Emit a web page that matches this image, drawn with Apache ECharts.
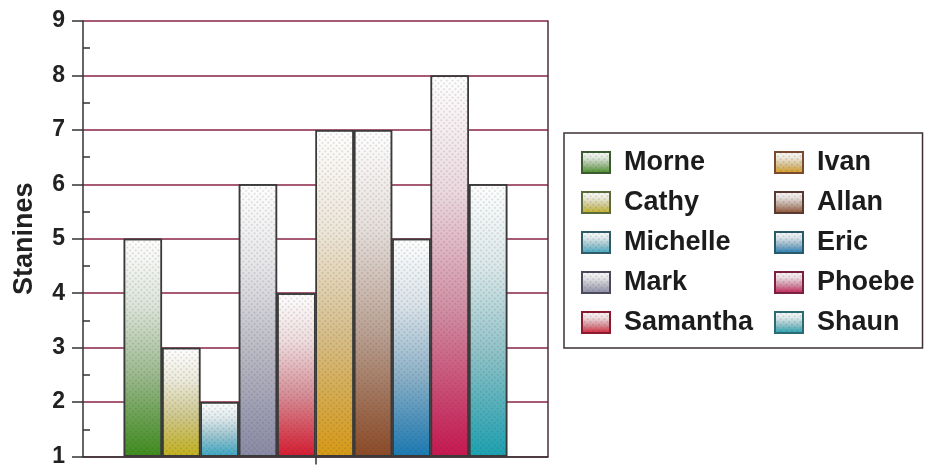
<!DOCTYPE html>
<html>
<head>
<meta charset="utf-8">
<script src="https://cdn.jsdelivr.net/npm/echarts@6/dist/echarts.min.js"></script>
<style>
  html, body { margin: 0; padding: 0; background: #ffffff; }
  #chart { width: 926px; height: 468px; }
</style>
</head>
<body>
<div id="chart"></div>
<script>
// Stanine score for each pupil
const categories = [''];
const pupils = ['Morne', 'Cathy', 'Michelle', 'Mark', 'Samantha', 'Ivan', 'Allan', 'Eric', 'Phoebe', 'Shaun'];
const stanines = [5, 3, 2, 6, 4, 7, 7, 5, 8, 6];
const yMin = 1, yMax = 9, yStep = 1;

// Base shade of each bar, plus a darker edge used for the legend swatches
const baseColors = ['#3f8c1c', '#c4b21c', '#3aa8c4', '#8a8aa6', '#d81a30', '#d89a14', '#8c4a26', '#1a7ab4', '#c81650', '#1ca2b2'];
const edgeColors = ['#3c5a30', '#5a6a3a', '#2f5a66', '#4a4a5a', '#8a1a30', '#7a4a30', '#5a3a30', '#2a5a6a', '#7a2040', '#2a6a72'];

const FONT = '"Liberation Sans", Arial, sans-serif';

function hexToRgb(h) {
  const n = parseInt(h.slice(1), 16);
  return [(n >> 16) & 255, (n >> 8) & 255, n & 255];
}
function mix(a, b, t) {
  const A = hexToRgb(a), B = hexToRgb(b);
  const c = A.map((v, i) => Math.round(v + (B[i] - v) * t));
  return 'rgb(' + c.join(',') + ')';
}
// Fades from the full shade at the foot of the bar to white at its top
function fade(c) {
  return {
    type: 'linear', x: 0, y: 0, x2: 0, y2: 1,
    colorStops: [
      { offset: 0, color: '#ffffff' },
      { offset: 0.3, color: mix(c, '#f0f0f0', 0.9) },
      { offset: 0.62, color: mix(c, '#d6d6d6', 0.62) },
      { offset: 0.88, color: mix(c, '#cccccc', 0.2) },
      { offset: 1, color: c }
    ]
  };
}

const halftone = {
  symbol: 'circle',
  symbolSize: 0.9,
  color: 'rgba(60,60,60,0.2)',
  dashArrayX: [2, 2],
  dashArrayY: [2, 2],
  rotation: Math.PI / 4
};

const series = pupils.map((name, i) => ({
  name: name,
  type: 'bar',
  yAxisIndex: 0,
  data: [stanines[i]],
  barGap: '0%',
  barCategoryGap: '17.5%',
  clip: true,
  itemStyle: {
    color: fade(baseColors[i]),
    borderColor: '#3a3a3a',
    borderWidth: 1.5,
    decal: halftone
  },
  emphasis: { disabled: true },
  silent: true
}));

// Legend reads row by row: left column then right column
const legendOrder = [0, 5, 1, 6, 2, 7, 3, 8, 4, 9];
const legendData = legendOrder.map((i, k) => {
  const item = { name: pupils[i], icon: 'rect', itemStyle: { borderColor: edgeColors[i], borderWidth: 2 } };
  if (k % 2 === 0) item.textStyle = { width: 137 };
  return item;
});

const chart = echarts.init(document.getElementById('chart'), null, { renderer: 'canvas' });
chart.setOption({
  animation: false,
  backgroundColor: '#ffffff',
  aria: { enabled: false },
  grid: { left: 83, right: 378, top: 21, bottom: 9, containLabel: false },
  legend: {
    orient: 'horizontal',
    left: 564,
    top: 133,
    width: 340,
    padding: [16, 8, 12, 17],
    itemGap: 13,
    itemWidth: 28,
    itemHeight: 21,
    icon: 'rect',
    selectedMode: false,
    borderColor: '#3e2f36',
    borderWidth: 1.5,
    data: legendData,
    textStyle: {
      fontFamily: FONT,
      fontSize: 27,
      fontWeight: 'bold',
      color: '#1c1c1c',
      lineHeight: 21,
      padding: [0, 0, 0, 9]
    }
  },
  xAxis: {
    type: 'category',
    data: categories,
    boundaryGap: true,
    axisLine: { show: true, lineStyle: { color: '#333333', width: 1.5 } },
    axisTick: { show: true, alignWithLabel: true, length: 8, lineStyle: { color: '#333333', width: 1.5 } },
    axisLabel: { show: false },
    splitLine: { show: false }
  },
  yAxis: [
    {
      type: 'value',
      position: 'left',
      min: yMin,
      max: yMax,
      interval: yStep,
      startValue: yMin,
      name: 'Stanines',
      nameLocation: 'middle',
      nameGap: 45,
      nameTextStyle: { fontFamily: FONT, fontSize: 27, fontWeight: 'bold', color: '#222222' },
      axisLine: { show: true, lineStyle: { color: '#333333', width: 1.5 } },
      axisTick: { show: true, inside: false, length: 11, lineStyle: { color: '#333333', width: 1.5 } },
      axisLabel: { fontFamily: FONT, fontSize: 23, fontWeight: 'bold', color: '#222222', margin: 18 },
      splitLine: { show: true, lineStyle: { color: '#8a2444', width: 1.5 } }
    },
    {
      // half-step ticks pointing into the plot
      type: 'value',
      position: 'left',
      min: yMin,
      max: yMax,
      interval: yStep,
      axisLine: { show: false },
      axisTick: { show: false, inside: true },
      minorTick: { show: true, splitNumber: 2, length: 7, lineStyle: { color: '#333333', width: 1.5 } },
      axisLabel: { show: false },
      splitLine: { show: false }
    },
    {
      type: 'value',
      position: 'right',
      min: yMin,
      max: yMax,
      interval: yStep,
      axisLine: { show: true, lineStyle: { color: '#4a3038', width: 1.5 } },
      axisTick: { show: false },
      axisLabel: { show: false },
      splitLine: { show: false }
    }
  ],
  series: series
});
</script>
</body>
</html>
